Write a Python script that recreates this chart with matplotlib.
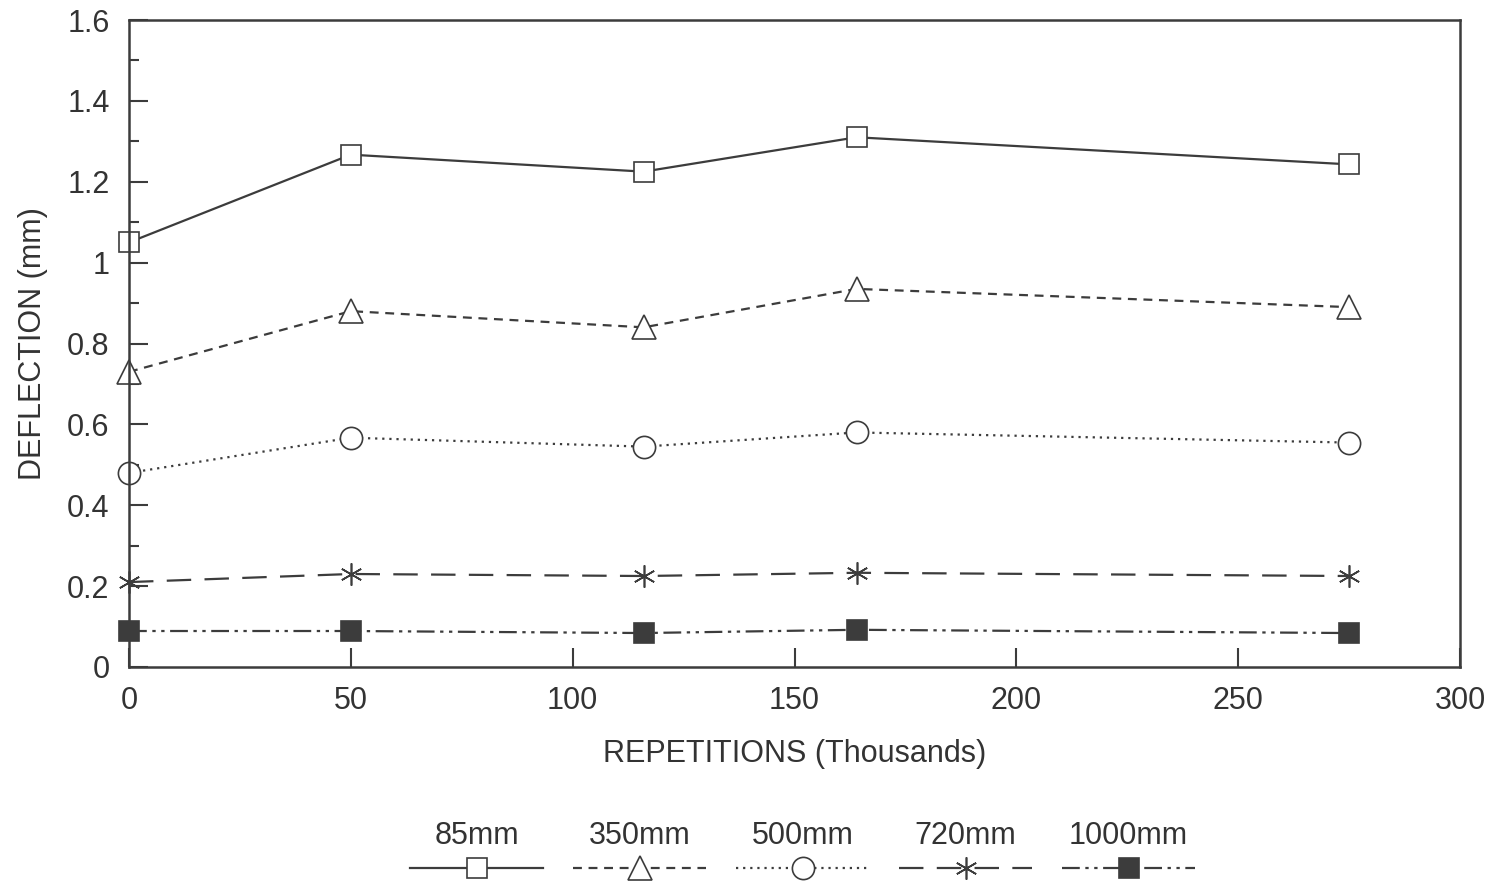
import matplotlib.pyplot as plt
from matplotlib.ticker import MultipleLocator

plt.rcParams['font.family'] = ['Liberation Sans', 'DejaVu Sans']

# datos
repetitions = [0, 50, 116, 164, 275]
labels = ['85mm', '350mm', '500mm', '720mm', '1000mm']
d_85 = [1.05, 1.267, 1.225, 1.31, 1.243]
d_350 = [0.73, 0.88, 0.84, 0.935, 0.89]
d_500 = [0.48, 0.567, 0.545, 0.58, 0.555]
d_720 = [0.21, 0.23, 0.225, 0.233, 0.225]
d_1000 = [0.089, 0.089, 0.084, 0.092, 0.084]

series = [d_85, d_350, d_500, d_720, d_1000]
col = '#3c3c3c'
txt = '#333333'
styles = [
    dict(linestyle='-', marker='s', mfc='white', ms=14),
    dict(linestyle=(0, (4, 3)), marker='^', mfc='white', ms=17),
    dict(linestyle=(0, (1, 2.2)), marker='o', mfc='white', ms=16),
    dict(linestyle=(0, (11, 6)), marker=(6, 2, 0), mfc='white', ms=16),
    dict(linestyle=(0, (8, 2.5, 1.5, 2.5, 1.5, 2.5)), marker='s', mfc=col, ms=14),
]

fig = plt.figure(figsize=(14.94, 8.82), dpi=100)
ax = fig.add_axes([129/1494, 1 - 667/882, (1460-129)/1494, (667-20)/882])

for vals, lab, st in zip(series, labels, styles):
    ax.plot(repetitions, vals, color=col, lw=1.6, mec=col, mew=1.2,
            clip_on=False, label=lab, **st)

ax.set_xlim(0, 300)
ax.set_ylim(0, 1.6)
ax.xaxis.set_major_locator(MultipleLocator(50))
ax.yaxis.set_major_locator(MultipleLocator(0.2))
ax.yaxis.set_minor_locator(MultipleLocator(0.1))
ax.yaxis.set_major_formatter(plt.FuncFormatter(lambda v, p: ('%g' % round(v, 1))))
ax.tick_params(direction='in', length=14, width=1.5, color=col, labelsize=22,
               labelcolor=txt)
ax.tick_params(axis='y', which='minor', direction='in', length=7, width=1.5, color=col)
ax.tick_params(axis='x', pad=14)
ax.tick_params(axis='y', pad=14)
for s in ax.spines.values():
    s.set_color(col)
    s.set_linewidth(1.8)

ax.set_xlabel('REPETITIONS (Thousands)', fontsize=22, color=txt, labelpad=16)
ax.set_ylabel('DEFLECTION (mm)', fontsize=22, color=txt, labelpad=14)

# leyenda dibujada a mano: etiqueta encima del simbolo
lax = fig.add_axes([395/1494, 0, 815/1494, 70/882])
lax.set_xlim(0, 5)
lax.set_ylim(0, 1)
lax.axis('off')
for i, (lab, st) in enumerate(zip(labels, styles)):
    st2 = dict(st)
    mk = st2.pop('marker')
    lax.plot([i + 0.09, i + 0.91], [0.2, 0.2], color=col, lw=1.6,
             linestyle=st2['linestyle'])
    lax.plot([i + 0.5], [0.2], color=col, marker=mk, mfc=st2['mfc'],
             ms=st2['ms'], mec=col, mew=1.2, linestyle='none')
    lax.text(i + 0.5, 0.45, lab, ha='center', va='bottom', fontsize=22,
             color=txt)

fig.savefig('out.png', dpi=100)
